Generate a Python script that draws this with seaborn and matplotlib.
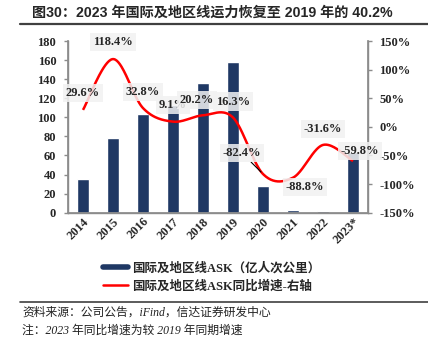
import numpy as np
import pandas as pd
import matplotlib
matplotlib.use("Agg")
import matplotlib.pyplot as plt
from matplotlib.lines import Line2D
from matplotlib.ticker import FuncFormatter
import seaborn as sns

# International & regional routes: capacity (ASK, 亿人次公里) and YoY growth (%)
years = ["2014", "2015", "2016", "2017", "2018", "2019", "2020", "2021", "2022", "2023*"]
ask = [35.7, 78.0, 103.6, 113.0, 135.8, 158.0, 27.8, 3.1, 2.1, 63.5]
yoy = [29.6, 118.4, 32.8, 9.1, 20.2, 16.3, -82.4, -88.8, -31.6, -59.8]

bar_name = "国际及地区线ASK（亿人次公里）"
line_name = "国际及地区线ASK同比增速-右轴"
title = "图30：2023 年国际及地区线运力恢复至 2019 年的 40.2%"
source = "资料来源：公司公告，iFind，信达证券研发中心"
note = "注：2023 年同比增速为较 2019 年同期增速"

sns.set_theme(style="white")
SERIF = ["Liberation Serif", "Noto Sans CJK SC"]
SANS = ["Liberation Sans", "Noto Sans CJK SC"]
plt.rcParams["font.family"] = SERIF
plt.rcParams["axes.unicode_minus"] = False

NAVY = "#1f3864"
RED = "#ff0000"
GREY = "#8c8c8c"

df = pd.DataFrame({"year": years, "ask": ask, "yoy": yoy})

fig = plt.figure(figsize=(4.28, 3.42), dpi=100)
ax = fig.add_axes([68 / 428, 1 - 212.7 / 342, 300 / 428, 171.7 / 342])

sns.barplot(data=df, x="year", y="ask", color=NAVY, saturation=1, width=0.4, ax=ax)
ax.set_xlim(-0.5, len(years) - 0.5)
ax.set_ylim(0, 180)
ax.set_yticks(np.arange(0, 181, 20))
ax.set_xlabel("")
ax.set_ylabel("")

ax.spines["top"].set_visible(False)
for s in ["left", "bottom", "right"]:
    ax.spines[s].set_color(GREY)
    ax.spines[s].set_linewidth(1.0)

ax.tick_params(axis="y", direction="out", length=3, width=1, color=GREY,
               labelsize=9, pad=5.5)
ax.tick_params(axis="x", which="major", length=0, labelsize=9, pad=2)
ax.set_xticks(np.arange(-0.5, len(years), 1), minor=True)
ax.tick_params(axis="x", which="minor", direction="out", length=3, width=1, color=GREY)
for lab in ax.get_yticklabels():
    lab.set_fontweight("bold")
for lab in ax.get_xticklabels():
    lab.set_fontweight("bold")
    lab.set_rotation(45)
    lab.set_ha("right")
    lab.set_va("top")
    lab.set_rotation_mode("anchor")

# Right axis: smoothed growth curve
ax2 = ax.twinx()
ax2.set_ylim(-150, 150)
ax2.set_yticks(np.arange(-150, 151, 50))
ax2.yaxis.set_major_formatter(FuncFormatter(lambda v, _: f"{v:.0f}%"))
ax2.spines["top"].set_visible(False)
for s in ["left", "bottom", "right"]:
    ax2.spines[s].set_color(GREY)
ax2.tick_params(axis="y", direction="out", length=3, width=1, color=GREY,
                labelsize=9, pad=5)
for lab in ax2.get_yticklabels():
    lab.set_fontweight("bold")


def smooth(xs, ys, n=40):
    """Catmull-Rom style Bezier smoothing through every point."""
    P = np.column_stack([xs, ys]).astype(float)
    out = []
    for i in range(len(P) - 1):
        p0 = P[i - 1] if i > 0 else P[i]
        p1, p2 = P[i], P[i + 1]
        p3 = P[i + 2] if i + 2 < len(P) else P[i + 1]
        c1 = p1 + (p2 - p0) / 6
        c2 = p2 - (p3 - p1) / 6
        t = np.linspace(0, 1, n)[:, None]
        seg = ((1 - t) ** 3) * p1 + 3 * ((1 - t) ** 2) * t * c1 + 3 * (1 - t) * t ** 2 * c2 + t ** 3 * p2
        out.append(seg if i == 0 else seg[1:])
    return np.vstack(out)


xs = np.arange(len(years))
curve = smooth(xs, yoy)
ax2.plot(curve[:, 0], curve[:, 1], color=RED, lw=1.8, solid_capstyle="butt")

# Value labels (offsets in pixels)
offsets = [(0, 17), (0, 17), (0, 16), (0, 17), (-6, 15), (0, 16),
           (-21, 21), (12, -9), (0, 16), (7, 10)]
for i, (v, off) in enumerate(zip(yoy, offsets)):
    kw = {}
    if v == -82.4:
        kw["arrowprops"] = dict(arrowstyle="-", color="black", lw=0.8,
                                shrinkA=0, shrinkB=2)
    ax2.annotate(f"{v}%", xy=(i, v), xytext=off, textcoords="offset pixels",
                 ha="center", va="center", fontsize=9, fontweight="bold",
                 bbox=dict(boxstyle="square,pad=0.25", fc="#f2f2f2", ec="none", alpha=0.85),
                 zorder=5, **kw)

# Legend
handles = [Line2D([], [], color=NAVY, lw=4), Line2D([], [], color=RED, lw=1.8)]
leg = fig.legend(handles, [bar_name, line_name], loc="upper left",
                 bbox_to_anchor=(103 / 428, 1 - 262 / 342), frameon=False,
                 handlelength=2.0, handletextpad=0.35, borderpad=0, borderaxespad=0,
                 labelspacing=0.45, prop=dict(family=SERIF, weight="bold", size=9))

# Title and rules
fig.text(32 / 428, 1 - 13 / 342, title, ha="left", va="center", fontsize=10.2,
         fontweight="bold", family=SANS)
fig.add_artist(Line2D([20 / 428, 1], [1 - 24 / 342] * 2, color="#404040", lw=1.6))
fig.add_artist(Line2D([20 / 428, 1], [1 - 302 / 342] * 2, color="#404040", lw=1.2))

fig.text(22 / 428, 1 - 313 / 342, source, ha="left", va="center", fontsize=8.5,
         style="italic", family=SERIF, color="#222222")
fig.text(22 / 428, 1 - 331 / 342, note, ha="left", va="center", fontsize=8.5,
         style="italic", family=SERIF, color="#222222")

fig.savefig("out.png", dpi=100)
